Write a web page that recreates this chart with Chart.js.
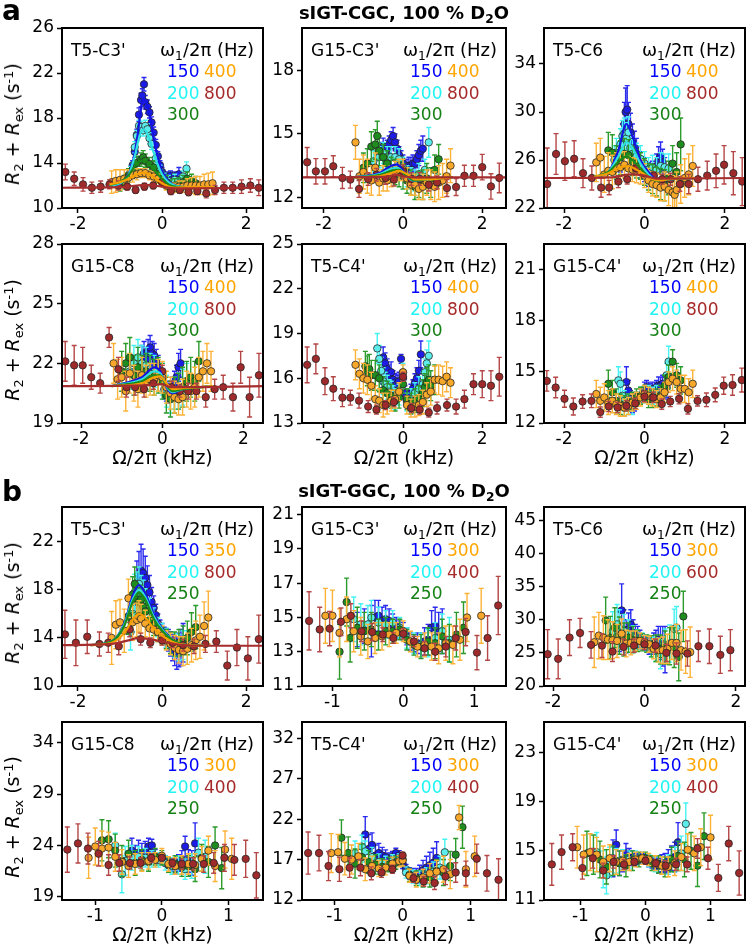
<!DOCTYPE html>
<html>
<head>
<meta charset="utf-8">
<script src="https://cdn.jsdelivr.net/npm/chart.js@4.4.1/dist/chart.umd.min.js"></script>
<style>
body { margin: 0; background: #fff; }
#fig { position: relative; width: 749px; height: 948px; overflow: hidden; font-family: 'DejaVu Sans', sans-serif; color: #000; }
#fig canvas { position: absolute; }
.t { position: absolute; white-space: nowrap; line-height: 20px; }
.t sub { font-size: 68%; vertical-align: -0.3em; line-height: 0; }
.t sup { font-size: 68%; vertical-align: 0.5em; line-height: 0; }
</style>
</head>
<body>
<div id="fig"></div>
<script>
// each point: [offset kHz, R2+Rex, error]
// ---- a: sIGT-CGC ----
const a1_150 = [[-0.75,13.0,0.4],[-0.7,13.8,0.4],[-0.65,15.0,0.5],[-0.6,16.5,0.5],[-0.55,18.3,0.6],[-0.5,19.6,0.6],[-0.47,20.0,0.6],[-0.43,21.0,0.6],[-0.4,19.4,0.6],[-0.35,19.0,0.6],[-0.3,18.5,0.5],[-0.25,17.6,0.5],[-0.2,16.7,0.5],[-0.15,15.6,0.5],[-0.1,14.6,0.4],[-0.05,13.8,0.4],[0,13.2,0.4],[0.1,12.8,0.4],[0.2,12.9,0.4],[0.3,12.8,0.4],[0.4,13.0,0.6],[0.45,12.6,0.4]];
const a1_200 = [[-0.85,12.5,0.5],[-0.75,13.2,0.5],[-0.65,15.4,0.5],[-0.6,16.4,0.5],[-0.55,17.3,0.5],[-0.5,17.2,0.5],[-0.45,16.9,0.5],[-0.4,17.3,0.5],[-0.35,17.0,0.5],[-0.3,16.2,0.5],[-0.25,15.7,0.5],[-0.15,14.4,0.5],[-0.05,13.3,0.5],[0.05,12.6,0.5],[0.15,12.4,0.5],[0.3,12.5,0.5],[0.45,12.4,0.5],[0.5,12.8,0.5],[0.58,13.5,0.6]];
const a1_300 = [[-1.0,12.1,0.6],[-0.9,12.3,0.6],[-0.8,12.9,0.6],[-0.7,13.4,0.6],[-0.6,14.0,0.6],[-0.5,14.3,0.6],[-0.45,14.5,0.6],[-0.4,14.2,0.6],[-0.3,13.9,0.6],[-0.2,13.6,0.6],[-0.1,13.0,0.6],[0,12.6,0.6],[0.1,12.3,0.6],[0.2,11.9,0.6],[0.3,12.0,0.6],[0.4,12.1,0.6],[0.5,12.3,0.6],[0.6,12.6,0.6],[0.7,12.4,0.6],[0.8,12.2,0.6]];
const a1_400 = [[-1.2,12.3,1.0],[-1.1,12.4,1.0],[-1.0,12.5,0.9],[-0.9,12.6,0.8],[-0.8,12.7,0.7],[-0.7,12.9,0.6],[-0.6,13.0,0.5],[-0.5,13.1,0.4],[-0.4,13.1,0.4],[-0.3,12.9,0.4],[-0.2,12.8,0.4],[-0.1,12.6,0.4],[0,12.3,0.4],[0.1,12.0,0.4],[0.2,11.8,0.4],[0.3,11.8,0.4],[0.4,11.9,0.5],[0.5,11.9,0.5],[0.6,12.0,0.6],[0.7,12.0,0.7],[0.8,12.0,0.8],[0.9,12.0,0.8],[1.0,12.1,0.9],[1.1,12.1,1.0],[1.2,12.2,1.0]];
const a1_800 = [[-2.3,13.2,0.7],[-2.09,12.6,0.6],[-1.88,12.1,0.6],[-1.67,11.8,0.5],[-1.46,11.9,0.5],[-1.25,12.1,0.4],[-1.04,12.0,0.4],[-0.83,11.9,0.3],[-0.63,11.6,0.3],[-0.42,11.9,0.3],[-0.21,12.0,0.3],[0,12.3,0.3],[0.21,11.5,0.3],[0.42,11.6,0.3],[0.63,11.4,0.3],[0.84,11.5,0.3],[1.05,11.3,0.4],[1.26,11.6,0.4],[1.47,11.8,0.5],[1.68,11.8,0.5],[1.89,11.9,0.6],[2.1,12.0,0.6],[2.3,11.8,0.7]];
const a1_fit150 = [[-1.25,12.0],[-1.0,12.2],[-0.8,13.0],[-0.7,14.0],[-0.6,16.0],[-0.5,18.8],[-0.45,19.7],[-0.4,19.6],[-0.3,18.3],[-0.2,16.2],[-0.1,14.5],[0,13.3],[0.15,12.4],[0.3,12.0],[0.6,11.85],[1.25,11.85]];
const a1_fit200 = [[-1.25,12.0],[-1.0,12.2],[-0.8,12.9],[-0.65,14.6],[-0.55,16.2],[-0.45,17.0],[-0.35,16.6],[-0.25,15.5],[-0.1,13.8],[0,13.0],[0.15,12.3],[0.3,12.0],[0.6,11.85],[1.25,11.85]];
const a1_fit300 = [[-1.25,12.05],[-1.0,12.3],[-0.8,12.9],[-0.65,13.7],[-0.5,14.2],[-0.4,14.2],[-0.3,13.9],[-0.15,13.2],[0,12.6],[0.15,12.1],[0.3,11.9],[0.6,11.85],[1.25,11.85]];
const a1_fit400 = [[-1.25,12.1],[-1.0,12.3],[-0.8,12.6],[-0.6,13.0],[-0.45,13.15],[-0.3,13.0],[-0.15,12.6],[0,12.2],[0.15,11.9],[0.3,11.8],[0.6,11.85],[1.25,11.85]];
const a1_fit800 = [[-2.38,11.8],[-1.0,11.85],[-0.6,12.0],[-0.4,12.05],[-0.2,12.0],[0,11.9],[0.3,11.75],[0.6,11.75],[2.4,11.8]];

const a2_150 = [[-0.55,14.2,0.4],[-0.5,14.4,0.4],[-0.45,14.1,0.4],[-0.4,14.3,0.4],[-0.35,14.5,0.4],[-0.3,14.7,0.4],[-0.25,14.9,0.4],[-0.2,14.6,0.4],[-0.15,14.3,0.4],[-0.1,14.0,0.4],[-0.05,13.8,0.4],[0,13.6,0.4],[0.05,13.4,0.4],[0.1,13.4,0.4],[0.15,13.5,0.4],[0.2,13.5,0.4],[0.25,13.6,0.4],[0.3,13.6,0.4],[0.35,13.8,0.4],[0.4,14.0,0.5],[0.45,14.2,0.5],[0.5,14.3,0.6]];
const a2_200 = [[-0.75,13.7,0.5],[-0.6,13.9,0.5],[-0.5,14.1,0.5],[-0.4,13.9,0.5],[-0.3,13.9,0.5],[-0.2,13.9,0.5],[-0.1,13.8,0.5],[0,13.4,0.5],[0.1,13.0,0.5],[0.2,12.9,0.5],[0.3,12.8,0.5],[0.4,13.1,0.5],[0.55,13.3,0.5],[0.65,14.6,0.7]];
const a2_300 = [[-1.0,13.4,0.7],[-0.9,13.6,0.7],[-0.8,14.4,0.7],[-0.7,14.5,0.7],[-0.65,14.9,0.7],[-0.6,14.2,0.7],[-0.5,13.9,0.6],[-0.4,13.6,0.6],[-0.3,13.3,0.6],[-0.2,13.2,0.6],[-0.1,13.1,0.6],[0,13.0,0.6],[0.1,12.8,0.6],[0.2,12.7,0.6],[0.3,12.5,0.6],[0.4,12.6,0.6],[0.5,12.6,0.7],[0.6,12.9,0.7],[0.7,12.7,0.7],[0.8,13.3,0.7],[0.9,13.8,0.7]];
const a2_400 = [[-1.2,14.6,0.8],[-1.1,13.0,0.8],[-1.0,13.2,0.8],[-0.9,13.0,0.8],[-0.8,12.8,0.7],[-0.7,13.4,0.7],[-0.6,12.7,0.6],[-0.5,12.9,0.6],[-0.4,12.8,0.5],[-0.3,13.0,0.5],[-0.2,13.2,0.5],[-0.1,13.3,0.5],[0,13.3,0.5],[0.1,12.9,0.5],[0.2,12.6,0.5],[0.3,12.6,0.5],[0.4,12.4,0.5],[0.5,12.5,0.6],[0.6,12.7,0.6],[0.7,12.6,0.7],[0.8,12.5,0.7],[0.9,12.7,0.8],[1.0,12.8,0.8],[1.1,13.0,0.8],[1.2,13.5,0.8]];
const a2_800 = [[-2.42,13.66,0.7],[-2.2,13.23,0.6],[-1.97,13.23,0.6],[-1.76,13.47,0.5],[-1.53,12.92,0.5],[-1.33,12.84,0.4],[-1.11,12.4,0.4],[-0.88,12.87,0.3],[-0.67,13.07,0.3],[-0.44,12.92,0.3],[-0.23,12.84,0.3],[0,13.23,0.3],[0.21,12.87,0.3],[0.42,12.87,0.3],[0.65,12.6,0.3],[0.86,12.71,0.3],[1.11,12.44,0.4],[1.34,12.49,0.4],[1.55,13.02,0.5],[1.78,13.02,0.5],[2.0,13.43,0.6],[2.22,12.52,0.6],[2.43,12.92,0.7]];
const a2_fit150 = [[-1.25,12.95],[-0.6,13.15],[-0.3,13.5],[-0.15,13.55],[0.05,13.15],[0.25,12.8],[0.6,12.85],[1.25,12.95]];
const a2_fit200 = [[-1.25,12.95],[-0.6,13.1],[-0.3,13.35],[-0.15,13.4],[0.05,13.1],[0.25,12.8],[0.6,12.85],[1.25,12.95]];
const a2_fit300 = [[-1.25,12.95],[-0.6,13.05],[-0.3,13.25],[-0.1,13.3],[0.1,13.0],[0.3,12.8],[0.6,12.85],[1.25,12.95]];
const a2_fit400 = [[-1.25,12.95],[-0.6,13.0],[-0.3,13.15],[-0.1,13.25],[0.1,13.1],[0.3,12.85],[0.6,12.85],[1.25,12.95]];
const a2_fit800 = [[-2.55,12.95],[-0.5,12.97],[-0.15,13.05],[0.2,12.95],[2.6,12.95]];

const a3_150 = [[-0.6,26.2,1.2],[-0.55,27.5,1.5],[-0.5,29.0,1.8],[-0.47,30.0,2.0],[-0.43,30.2,2.0],[-0.4,29.0,1.8],[-0.35,28.3,1.6],[-0.3,27.5,1.5],[-0.25,27.0,1.4],[-0.2,26.5,1.3],[-0.15,26.0,1.2],[-0.1,25.6,1.1],[0,25.2,1.0],[0.1,24.8,1.0],[0.2,24.9,1.0],[0.3,25.5,1.0],[0.35,26.0,1.1],[0.4,26.3,1.2],[0.45,25.8,1.1],[0.5,25.2,1.0]];
const a3_200 = [[-0.75,26.0,1.2],[-0.7,26.6,1.2],[-0.6,27.3,1.3],[-0.55,28.0,1.3],[-0.5,28.2,1.3],[-0.45,27.8,1.3],[-0.4,28.3,1.3],[-0.35,27.0,1.2],[-0.3,26.5,1.2],[-0.2,26.3,1.1],[-0.1,26.1,1.1],[0,25.7,1.0],[0.1,25.2,1.0],[0.2,25.4,1.0],[0.3,25.2,1.0],[0.4,25.5,1.1],[0.5,25.4,1.1],[0.6,25.3,1.2]];
const a3_300 = [[-0.9,26.8,1.5],[-0.8,26.6,1.5],[-0.7,25.8,1.4],[-0.6,26.2,1.4],[-0.5,26.5,1.3],[-0.4,26.4,1.3],[-0.3,25.9,1.2],[-0.2,25.7,1.2],[-0.1,25.5,1.1],[0,25.0,1.1],[0.1,24.6,1.1],[0.2,24.4,1.2],[0.3,24.2,1.2],[0.4,24.0,1.3],[0.5,23.9,1.3],[0.6,24.5,1.4],[0.7,25.7,1.5],[0.8,25.0,1.6],[0.9,27.3,2.2]];
const a3_400 = [[-1.2,25.8,1.6],[-1.1,26.2,1.6],[-1.0,24.8,1.5],[-0.9,25.1,1.5],[-0.8,25.0,1.4],[-0.7,25.3,1.3],[-0.6,25.4,1.2],[-0.5,25.6,1.1],[-0.4,25.3,1.0],[-0.3,25.2,1.0],[-0.2,25.1,1.0],[-0.1,25.0,1.0],[0,24.7,1.0],[0.1,24.3,1.0],[0.2,24.0,1.0],[0.3,23.9,1.0],[0.4,23.7,1.1],[0.5,23.8,1.2],[0.6,23.5,1.3],[0.7,23.3,1.4],[0.75,23.1,1.5],[0.8,23.5,1.5],[0.9,24.0,1.6],[1.0,24.5,1.6],[1.1,24.8,1.7],[1.2,25.5,1.7]];
const a3_800 = [[-2.42,24.0,3.0],[-2.2,26.5,1.7],[-1.98,25.9,1.6],[-1.75,26.1,1.5],[-1.53,24.9,1.2],[-1.31,24.5,1.0],[-1.08,23.7,0.8],[-0.88,23.7,0.6],[-0.65,24.2,0.5],[-0.43,24.4,0.4],[-0.21,25.3,0.3],[0,24.9,0.3],[0.23,24.7,0.3],[0.44,24.4,0.4],[0.65,24.4,0.5],[0.88,24.0,0.6],[1.1,24.0,0.8],[1.33,24.4,1.0],[1.56,24.7,1.2],[1.78,25.1,1.4],[1.98,25.6,1.6],[2.21,24.9,1.8],[2.43,24.2,2.0]];
const a3_fit150 = [[-1.25,24.6],[-0.9,25.0],[-0.65,26.8],[-0.45,29.0],[-0.3,28.0],[-0.1,26.0],[0.1,25.0],[0.3,24.4],[0.6,24.4],[1.25,24.5]];
const a3_fit200 = [[-1.25,24.6],[-0.9,25.0],[-0.65,26.3],[-0.45,27.5],[-0.3,27.0],[-0.1,25.7],[0.1,24.8],[0.3,24.3],[0.6,24.4],[1.25,24.5]];
const a3_fit300 = [[-1.25,24.6],[-0.9,25.0],[-0.6,26.0],[-0.45,26.3],[-0.3,26.0],[-0.1,25.3],[0.1,24.6],[0.3,24.3],[0.6,24.4],[1.25,24.5]];
const a3_fit400 = [[-1.25,24.6],[-0.9,24.9],[-0.6,25.4],[-0.4,25.5],[-0.2,25.2],[0,24.8],[0.2,24.4],[0.4,24.3],[0.7,24.45],[1.25,24.5]];
const a3_fit800 = [[-2.5,24.5],[-0.8,24.55],[-0.35,24.8],[0,24.7],[0.3,24.45],[2.5,24.5]];

const a4_150 = [[-0.5,22.3,0.6],[-0.45,22.5,0.6],[-0.4,22.2,0.6],[-0.35,22.6,0.6],[-0.3,22.8,0.6],[-0.25,22.5,0.6],[-0.2,22.4,0.6],[-0.15,22.1,0.6],[-0.1,21.8,0.6],[-0.05,21.5,0.5],[0,21.1,0.5],[0.05,20.7,0.5],[0.1,20.6,0.5],[0.15,20.5,0.5],[0.2,20.6,0.5],[0.25,20.8,0.5],[0.3,21.0,0.6],[0.35,21.3,0.6],[0.4,21.8,0.7],[0.45,22.0,0.7]];
const a4_200 = [[-0.8,21.6,0.9],[-0.7,22.0,0.9],[-0.6,22.3,0.9],[-0.5,22.0,0.9],[-0.4,21.9,0.9],[-0.3,21.7,0.8],[-0.2,21.6,0.8],[-0.1,21.4,0.8],[0,21.2,0.8],[0.1,20.6,0.8],[0.2,20.3,0.8],[0.3,20.5,0.8],[0.4,20.6,0.9],[0.5,20.8,0.9],[0.6,21.1,0.9]];
const a4_300 = [[-1.0,21.6,1.0],[-0.9,22.0,1.0],[-0.8,22.3,1.0],[-0.7,21.4,1.0],[-0.6,21.8,1.0],[-0.5,21.5,0.9],[-0.4,21.6,0.9],[-0.3,21.5,0.9],[-0.2,21.3,0.9],[-0.1,21.4,0.9],[0,21.1,0.9],[0.1,20.4,0.9],[0.2,20.2,0.9],[0.3,20.4,0.9],[0.4,20.6,0.9],[0.5,20.8,1.0],[0.6,21.1,1.0],[0.7,21.3,1.0],[0.8,21.1,1.0],[0.9,22.1,1.0]];
const a4_400 = [[-1.2,22.0,1.0],[-1.1,21.2,1.0],[-1.0,21.3,1.0],[-0.9,20.6,1.0],[-0.8,21.5,1.0],[-0.7,21.0,0.9],[-0.6,20.7,0.9],[-0.5,21.4,0.9],[-0.4,21.1,0.8],[-0.3,21.2,0.8],[-0.2,21.2,0.8],[-0.1,21.4,0.8],[0,21.3,0.8],[0.1,20.8,0.8],[0.2,20.5,0.8],[0.3,20.3,0.8],[0.4,20.2,0.8],[0.5,20.3,0.9],[0.6,20.7,0.9],[0.7,20.6,0.9],[0.8,20.8,1.0],[0.9,21.3,1.0],[1.0,21.6,1.0],[1.1,22.0,1.0],[1.2,21.6,1.0]];
const a4_800 = [[-2.39,22.1,1.0],[-2.17,21.9,1.0],[-1.96,21.9,0.9],[-1.75,21.3,0.6],[-1.53,21.0,0.5],[-1.31,23.3,0.5],[-1.08,21.7,0.6],[-0.88,20.8,0.5],[-0.67,20.8,0.4],[-0.45,20.7,0.4],[-0.22,21.0,0.3],[0,21.6,0.3],[0.23,20.8,0.3],[0.43,20.6,0.3],[0.64,20.6,0.4],[0.84,20.6,0.4],[1.07,20.3,0.5],[1.29,20.7,0.5],[1.5,20.8,0.6],[1.74,20.3,0.7],[1.93,21.8,0.8],[2.15,20.3,1.0],[2.38,21.4,1.1]];
const a4_fit150 = [[-1.25,20.85],[-0.5,21.3],[-0.2,21.8],[-0.05,21.6],[0.1,20.8],[0.25,20.5],[0.5,20.7],[1.25,20.85]];
const a4_fit200 = [[-1.25,20.85],[-0.5,21.2],[-0.2,21.6],[-0.05,21.5],[0.1,20.85],[0.25,20.55],[0.5,20.7],[1.25,20.85]];
const a4_fit300 = [[-1.25,20.85],[-0.5,21.1],[-0.2,21.4],[-0.05,21.4],[0.1,20.9],[0.25,20.6],[0.5,20.7],[1.25,20.85]];
const a4_fit400 = [[-1.25,20.85],[-0.5,21.0],[-0.2,21.3],[-0.05,21.35],[0.1,21.0],[0.25,20.7],[0.5,20.75],[1.25,20.85]];
const a4_fit800 = [[-2.47,20.85],[-0.3,20.9],[0,20.95],[0.2,20.8],[2.48,20.85]];

const a5_150 = [[-0.5,17.4,0.7],[-0.45,17.0,0.7],[-0.4,16.6,0.7],[-0.35,16.2,0.7],[-0.3,16.4,0.7],[-0.25,15.9,0.6],[-0.2,15.7,0.6],[-0.15,15.6,0.6],[-0.1,15.8,0.6],[-0.05,17.3,0.3],[0,16.0,0.5],[0.05,15.0,0.5],[0.1,14.6,0.5],[0.15,14.8,0.5],[0.2,15.0,0.6],[0.25,15.3,0.6],[0.3,15.7,0.6],[0.35,16.0,0.7],[0.4,16.5,0.7],[0.45,17.6,0.9]];
const a5_200 = [[-0.65,18.0,1.0],[-0.6,17.3,0.9],[-0.55,16.5,0.9],[-0.5,15.8,0.9],[-0.45,15.6,0.8],[-0.4,15.4,0.8],[-0.35,15.1,0.8],[-0.3,15.0,0.8],[-0.25,14.8,0.7],[-0.2,14.6,0.7],[-0.1,14.9,0.7],[0,16.4,0.6],[0.1,14.4,0.6],[0.2,14.6,0.7],[0.3,15.0,0.7],[0.4,15.3,0.8],[0.5,15.6,0.8],[0.55,16.4,0.9],[0.6,17.0,0.9],[0.65,17.5,1.0]];
const a5_300 = [[-0.95,16.8,1.0],[-0.9,16.5,1.0],[-0.85,16.6,1.0],[-0.8,16.2,1.0],[-0.7,16.2,1.0],[-0.6,16.0,0.9],[-0.5,15.2,0.9],[-0.4,15.0,0.8],[-0.3,14.8,0.8],[-0.2,14.5,0.7],[-0.1,14.7,0.7],[0,15.6,0.6],[0.1,14.6,0.7],[0.2,14.3,0.7],[0.3,14.5,0.8],[0.4,14.7,0.8],[0.5,15.0,0.9],[0.55,15.4,0.9],[0.6,15.7,1.0],[0.65,15.9,1.0],[0.7,15.5,1.0],[0.8,15.9,1.0]];
const a5_400 = [[-1.2,16.9,1.0],[-1.1,16.3,1.0],[-1.0,16.0,1.0],[-0.9,15.9,1.0],[-0.8,15.5,0.9],[-0.7,14.6,0.9],[-0.6,14.5,0.8],[-0.5,14.2,0.8],[-0.4,14.3,0.7],[-0.3,14.5,0.7],[-0.2,14.6,0.6],[-0.1,15.1,0.6],[0,16.4,0.5],[0.1,14.2,0.6],[0.2,14.0,0.6],[0.3,14.1,0.7],[0.4,14.2,0.7],[0.5,14.4,0.8],[0.6,14.9,0.8],[0.7,15.1,0.9],[0.8,15.9,0.9],[0.9,15.9,1.0],[1.0,15.8,1.0],[1.1,16.1,1.0],[1.2,15.7,1.0]];
const a5_800 = [[-2.42,16.9,1.2],[-2.2,17.3,1.0],[-1.97,15.8,0.9],[-1.76,15.3,0.8],[-1.53,14.7,0.6],[-1.33,14.7,0.5],[-1.11,14.5,0.5],[-0.88,14.1,0.4],[-0.67,13.9,0.3],[-0.44,14.2,0.3],[-0.23,14.4,0.3],[0,16.1,0.3],[0.21,14.0,0.3],[0.42,13.9,0.3],[0.65,13.7,0.3],[0.86,14.0,0.4],[1.11,14.2,0.4],[1.34,14.1,0.5],[1.55,14.6,0.6],[1.78,15.6,0.7],[2.0,15.6,0.9],[2.22,15.5,1.0],[2.43,16.1,1.3]];

const a6_150 = [[-0.45,14.4,0.9],[-0.4,13.9,0.6],[-0.35,13.4,0.5],[-0.3,13.1,0.5],[-0.25,13.2,0.5],[-0.2,13.4,0.4],[-0.1,13.6,0.4],[0,14.0,0.4],[0.05,14.1,0.4],[0.1,14.0,0.4],[0.15,13.9,0.4],[0.2,14.0,0.4],[0.25,14.0,0.4],[0.3,14.1,0.4],[0.35,14.2,0.5],[0.4,14.2,0.5],[0.45,14.3,0.5],[0.5,13.9,0.5],[0.55,14.1,0.6]];
const a6_200 = [[-0.65,14.5,0.8],[-0.6,14.3,0.7],[-0.55,13.6,0.7],[-0.5,13.3,0.6],[-0.4,13.1,0.6],[-0.3,13.0,0.5],[-0.2,13.3,0.5],[-0.1,13.6,0.5],[0,13.7,0.5],[0.1,13.7,0.5],[0.2,13.6,0.5],[0.3,13.7,0.5],[0.4,13.6,0.6],[0.5,14.2,0.6],[0.55,14.8,0.7],[0.6,15.6,0.9]];
const a6_300 = [[-0.9,14.3,0.8],[-0.8,13.8,0.7],[-0.7,13.3,0.7],[-0.6,13.1,0.6],[-0.5,13.0,0.6],[-0.4,13.2,0.5],[-0.3,13.3,0.5],[-0.2,13.5,0.5],[-0.1,13.6,0.5],[0,13.7,0.5],[0.1,13.4,0.5],[0.2,13.4,0.5],[0.3,13.5,0.5],[0.4,13.6,0.6],[0.5,14.2,0.6],[0.6,14.7,0.7],[0.7,15.6,0.7],[0.8,14.8,0.7],[0.9,14.5,0.8]];
const a6_400 = [[-1.2,13.7,0.8],[-1.1,13.3,0.8],[-1.0,13.5,0.8],[-0.9,13.2,0.7],[-0.8,13.3,0.7],[-0.7,13.1,0.6],[-0.6,13.0,0.6],[-0.5,12.9,0.5],[-0.4,13.0,0.5],[-0.3,13.2,0.5],[-0.2,13.3,0.5],[-0.1,13.5,0.5],[0,13.7,0.5],[0.1,13.6,0.5],[0.2,13.5,0.5],[0.3,13.4,0.5],[0.4,13.5,0.5],[0.5,13.8,0.6],[0.6,14.4,0.6],[0.7,14.6,0.7],[0.8,14.4,0.7],[0.9,14.0,0.8],[1.0,14.0,0.8],[1.1,13.8,0.8],[1.2,14.3,0.8]];
const a6_800 = [[-2.43,14.47,0.6],[-2.21,14.08,0.6],[-1.99,13.42,0.5],[-1.77,12.97,0.5],[-1.54,13.26,0.4],[-1.32,13.3,0.4],[-1.1,12.64,0.3],[-0.89,12.97,0.3],[-0.67,12.91,0.3],[-0.45,13.01,0.3],[-0.23,13.15,0.3],[0,13.55,0.3],[0.22,13.5,0.3],[0.43,13.11,0.3],[0.64,13.26,0.3],[0.86,13.42,0.3],[1.08,12.83,0.3],[1.32,13.3,0.3],[1.54,13.36,0.4],[1.76,13.65,0.4],[1.97,14.19,0.5],[2.19,14.23,0.6],[2.42,14.52,0.7]];

// ---- b: sIGT-GGC ----
const b1_150 = [[-0.65,17.0,1.5],[-0.6,18.6,1.8],[-0.55,19.2,2.0],[-0.5,19.6,2.2],[-0.45,19.4,2.0],[-0.4,19.0,1.8],[-0.35,18.4,1.6],[-0.3,17.8,1.4],[-0.25,17.0,1.2],[-0.2,16.5,1.0],[-0.15,15.9,0.9],[-0.1,15.2,0.8],[-0.05,14.8,0.7],[0,14.5,0.7],[0.05,14.2,0.7],[0.1,14.0,0.8],[0.15,13.8,0.9],[0.2,13.5,1.0],[0.25,13.2,1.1],[0.3,12.9,1.2],[0.35,12.7,1.3],[0.4,13.0,1.4],[0.45,13.2,1.5],[0.5,13.6,1.6]];
const b1_200 = [[-0.75,14.5,1.5],[-0.7,16.0,1.5],[-0.65,17.8,1.5],[-0.6,18.0,1.5],[-0.55,18.5,1.4],[-0.5,17.9,1.3],[-0.45,17.6,1.2],[-0.4,17.0,1.1],[-0.3,16.3,1.0],[-0.2,15.6,0.9],[-0.1,14.9,0.8],[0,14.5,0.7],[0.1,14.0,0.8],[0.2,13.5,0.9],[0.3,13.4,1.0],[0.4,13.2,1.1],[0.5,13.4,1.2],[0.6,13.2,1.4]];
const b1_250 = [[-0.8,15.8,1.5],[-0.7,17.6,1.5],[-0.65,18.5,1.4],[-0.6,17.2,1.3],[-0.55,17.0,1.2],[-0.5,17.2,1.2],[-0.45,16.6,1.1],[-0.4,16.2,1.0],[-0.3,15.5,0.9],[-0.2,15.0,0.8],[-0.1,14.5,0.8],[0,14.2,0.7],[0.1,13.9,0.8],[0.2,13.6,0.9],[0.3,13.5,1.0],[0.4,13.6,1.1],[0.5,13.8,1.2],[0.6,14.0,1.4],[0.7,14.5,1.6],[0.8,14.9,1.8]];
const b1_350 = [[-1.2,14.0,2.2],[-1.1,15.1,2.0],[-1.0,15.3,1.9],[-0.9,14.6,1.8],[-0.8,17.3,1.6],[-0.7,15.3,1.5],[-0.6,15.5,1.4],[-0.55,15.8,1.3],[-0.5,15.6,1.2],[-0.4,15.2,1.1],[-0.3,14.8,1.0],[-0.2,14.7,0.9],[-0.1,14.5,0.8],[0,14.2,0.8],[0.1,13.8,0.8],[0.2,13.5,0.9],[0.3,13.2,1.0],[0.4,13.0,1.1],[0.5,12.9,1.2],[0.6,13.1,1.3],[0.7,13.4,1.4],[0.8,13.8,1.6],[0.9,14.1,1.8],[1.0,15.0,2.0],[1.1,15.7,2.2]];
const b1_800 = [[-2.31,14.3,2.0],[-2.05,13.6,1.9],[-1.78,14.1,1.4],[-1.49,13.5,1.0],[-1.28,13.6,0.8],[-1.03,13.3,0.7],[-0.77,14.7,0.6],[-0.51,13.9,0.5],[-0.28,13.6,0.4],[0,13.8,0.4],[0.25,13.6,0.4],[0.5,13.4,0.5],[0.76,13.3,0.6],[1.03,13.5,0.7],[1.29,13.7,0.9],[1.55,11.7,1.2],[1.78,13.2,1.5],[2.04,12.3,1.8],[2.3,13.9,2.0]];
const b1_fit150 = [[-1.7,13.4],[-1.2,13.7],[-0.9,15.2],[-0.7,17.5],[-0.55,18.4],[-0.4,17.7],[-0.2,16.0],[0,14.8],[0.3,13.7],[0.6,13.4],[1.0,13.35]];
const b1_fit200 = [[-1.7,13.4],[-1.2,13.7],[-0.9,15.1],[-0.7,17.2],[-0.55,18.0],[-0.4,17.4],[-0.2,15.8],[0,14.7],[0.3,13.7],[0.6,13.4],[1.0,13.35]];
const b1_fit250 = [[-1.7,13.4],[-1.2,13.7],[-0.9,15.0],[-0.7,17.0],[-0.55,17.8],[-0.4,17.2],[-0.2,15.6],[0,14.6],[0.3,13.7],[0.6,13.4],[1.0,13.35]];
const b1_fit350 = [[-1.7,13.4],[-1.2,13.6],[-0.9,14.4],[-0.7,15.5],[-0.55,16.0],[-0.4,15.7],[-0.2,14.8],[0,14.2],[0.3,13.6],[0.6,13.4],[1.0,13.35]];
const b1_fit800 = [[-2.38,13.4],[-1.2,13.5],[-0.8,13.8],[-0.55,14.0],[-0.3,13.9],[0,13.7],[0.4,13.45],[1.0,13.35],[2.4,13.35]];

const b2_150 = [[-0.65,14.3,1.0],[-0.55,14.5,1.0],[-0.45,14.2,1.5],[-0.4,15.0,1.0],[-0.35,15.1,0.9],[-0.3,14.8,0.8],[-0.25,14.9,0.8],[-0.2,14.8,0.7],[-0.15,14.6,0.6],[-0.1,14.5,0.5],[-0.05,14.3,0.5],[0,14.2,0.5],[0.05,13.9,0.5],[0.1,13.6,0.5],[0.15,13.5,0.5],[0.2,13.5,0.6],[0.25,13.4,0.7],[0.3,13.6,0.8],[0.35,13.7,0.9],[0.4,14.4,1.0],[0.45,14.5,1.1],[0.5,14.1,1.2],[0.55,14.2,1.3]];
const b2_200 = [[-0.7,14.9,1.3],[-0.6,14.6,1.2],[-0.5,14.6,1.1],[-0.45,15.0,1.0],[-0.35,14.7,0.9],[-0.25,14.6,0.8],[-0.15,14.7,0.7],[-0.05,14.4,0.6],[0.05,13.8,0.6],[0.15,13.5,0.6],[0.25,13.4,0.7],[0.35,13.5,0.8],[0.45,13.8,0.9],[0.55,14.2,1.0],[0.65,13.7,1.3]];
const b2_250 = [[-0.9,13.0,1.6],[-0.8,15.9,1.4],[-0.75,13.8,1.4],[-0.65,14.4,1.2],[-0.55,14.2,1.1],[-0.45,14.3,1.0],[-0.35,14.0,0.9],[-0.25,14.2,0.8],[-0.15,14.2,0.7],[-0.05,14.3,0.6],[0.05,13.7,0.6],[0.15,13.4,0.6],[0.25,13.3,0.7],[0.35,13.6,0.8],[0.45,13.5,0.9],[0.55,13.9,1.0],[0.65,13.5,1.1],[0.75,14.0,1.3],[0.85,14.4,1.5]];
const b2_300 = [[-1.1,15.1,1.6],[-1.0,15.1,1.5],[-0.9,14.1,1.4],[-0.8,14.9,1.3],[-0.7,14.2,1.2],[-0.6,13.9,1.1],[-0.5,13.6,1.0],[-0.4,13.8,0.9],[-0.3,13.9,0.8],[-0.2,14.0,0.7],[-0.1,14.1,0.6],[0,14.2,0.6],[0.1,13.6,0.6],[0.2,13.3,0.6],[0.3,13.4,0.7],[0.4,13.3,0.8],[0.5,13.2,0.9],[0.6,13.5,1.0],[0.7,13.4,1.1],[0.8,13.7,1.2],[0.9,15.0,1.4],[1.1,15.1,1.6]];
const b2_400 = [[-1.33,14.8,1.7],[-1.18,14.3,1.3],[-1.04,14.35,1.0],[-0.88,14.75,0.8],[-0.74,15.1,0.7],[-0.59,14.2,0.6],[-0.44,14.15,0.5],[-0.29,14.0,0.4],[-0.14,13.8,0.3],[0,14.05,0.3],[0.15,13.6,0.3],[0.3,13.2,0.4],[0.45,13.0,0.5],[0.6,13.3,0.6],[0.74,13.8,0.7],[0.88,14.15,0.8],[1.04,12.95,1.0],[1.19,13.8,1.3],[1.34,15.7,1.7]];

const b3_150 = [[-0.55,28.2,3.0],[-0.5,31.4,4.0],[-0.45,28.5,3.0],[-0.4,27.5,2.5],[-0.35,28.5,2.5],[-0.3,29.3,2.2],[-0.25,28.0,2.0],[-0.2,27.5,1.8],[-0.15,27.4,1.6],[-0.1,27.0,1.4],[-0.05,26.7,1.2],[0,26.5,1.0],[0.05,26.3,1.0],[0.1,26.0,1.2],[0.15,26.2,1.4],[0.2,26.4,1.6],[0.25,26.6,1.8],[0.3,27.0,2.0],[0.35,26.5,2.5],[0.4,26.0,3.0],[0.45,25.5,3.5]];
const b3_200 = [[-0.7,28.2,3.0],[-0.6,29.3,3.0],[-0.55,28.7,2.8],[-0.45,28.3,2.5],[-0.35,27.8,2.2],[-0.25,27.3,1.8],[-0.15,27.0,1.5],[-0.05,26.8,1.2],[0.05,26.4,1.2],[0.15,25.9,1.5],[0.25,25.5,1.8],[0.35,24.8,2.2],[0.45,26.1,2.5],[0.55,26.4,2.8],[0.65,28.6,3.0],[0.7,28.8,3.2]];
const b3_250 = [[-0.85,29.9,3.5],[-0.75,27.3,3.2],[-0.65,28.8,3.0],[-0.55,27.6,2.8],[-0.45,27.0,2.5],[-0.35,27.3,2.2],[-0.25,27.0,2.0],[-0.15,26.8,1.6],[-0.05,26.6,1.3],[0.05,26.4,1.3],[0.15,26.0,1.6],[0.25,25.7,2.0],[0.35,25.5,2.2],[0.45,25.8,2.5],[0.55,26.0,2.8],[0.65,25.8,3.0],[0.75,24.4,3.6],[0.85,30.5,3.8]];
const b3_300 = [[-1.1,26.6,3.8],[-1.0,27.6,3.5],[-0.9,27.3,3.3],[-0.8,27.0,3.0],[-0.7,26.9,2.8],[-0.6,26.8,2.5],[-0.5,27.9,2.2],[-0.4,26.4,2.0],[-0.3,26.5,1.8],[-0.2,26.8,1.5],[-0.1,26.8,1.2],[0,26.6,1.0],[0.1,26.3,1.2],[0.2,25.6,1.5],[0.3,25.4,1.8],[0.4,25.4,2.0],[0.5,25.6,2.2],[0.6,26.5,2.5],[0.7,26.5,2.8],[0.8,25.4,3.0],[0.9,25.2,3.3],[1.0,25.1,3.8]];
const b3_600 = [[-2.12,24.8,3.7],[-1.89,24.1,3.0],[-1.64,27.3,2.7],[-1.41,28.0,2.2],[-1.17,26.2,2.0],[-0.93,26.1,1.8],[-0.7,25.2,1.5],[-0.46,25.9,1.2],[-0.23,26.1,1.0],[0,26.3,0.8],[0.24,26.1,1.0],[0.48,25.0,1.3],[0.7,24.9,1.6],[0.94,24.9,1.9],[1.18,26.0,2.3],[1.42,26.0,2.6],[1.66,24.7,2.8],[1.88,25.4,3.1]];

const b4_150 = [[-0.45,23.5,1.2],[-0.4,23.0,1.0],[-0.35,23.3,1.2],[-0.3,23.2,1.0],[-0.25,23.4,1.0],[-0.2,23.9,0.8],[-0.15,24.0,0.6],[-0.1,23.0,0.6],[-0.05,22.8,0.5],[0,22.7,0.5],[0.05,22.5,0.5],[0.1,22.3,0.5],[0.15,22.1,0.6],[0.2,22.0,0.7],[0.25,22.3,0.8],[0.3,22.6,0.9],[0.35,23.9,1.0],[0.4,22.5,1.1],[0.45,22.3,1.2],[0.5,24.2,2.0]];
const b4_200 = [[-0.7,24.0,1.2],[-0.6,21.2,1.8],[-0.55,22.5,1.4],[-0.45,22.8,1.2],[-0.35,22.9,1.0],[-0.25,22.8,0.9],[-0.15,22.7,0.8],[-0.05,22.6,0.7],[0.05,22.3,0.7],[0.15,22.0,0.8],[0.25,22.1,0.9],[0.35,21.7,1.0],[0.45,22.0,1.2],[0.55,23.3,1.4],[0.65,22.9,1.6]];
const b4_250 = [[-0.9,24.5,2.0],[-0.8,24.6,1.8],[-0.7,23.5,1.6],[-0.6,22.5,1.5],[-0.5,23.2,1.3],[-0.4,22.3,1.2],[-0.3,22.6,1.0],[-0.2,22.4,0.9],[-0.1,22.9,0.8],[0,22.8,0.7],[0.1,22.1,0.7],[0.2,22.2,0.8],[0.3,21.9,0.9],[0.4,22.0,1.0],[0.5,21.7,1.2],[0.6,22.8,1.3],[0.7,22.4,1.5],[0.8,24.0,1.8],[0.9,21.8,2.0]];
const b4_300 = [[-1.1,22.8,2.0],[-1.0,23.9,1.8],[-0.9,23.7,1.7],[-0.8,23.8,1.5],[-0.7,22.9,1.4],[-0.6,22.4,1.2],[-0.5,22.0,1.1],[-0.4,22.2,1.0],[-0.3,22.4,0.9],[-0.2,22.5,0.8],[-0.1,22.6,0.7],[0,23.0,0.7],[0.1,22.2,0.7],[0.2,22.0,0.8],[0.3,22.1,0.9],[0.4,22.2,1.0],[0.5,22.1,1.1],[0.6,22.7,1.2],[0.7,23.5,1.4],[0.8,22.0,1.5],[0.95,23.6,1.8],[1.05,22.7,2.0]];
const b4_400 = [[-1.42,23.6,2.2],[-1.26,24.2,1.9],[-1.11,23.7,1.5],[-0.95,23.2,1.2],[-0.8,22.1,1.0],[-0.64,22.3,0.8],[-0.48,22.3,0.6],[-0.32,22.3,0.5],[-0.16,22.8,0.4],[0,22.8,0.3],[0.16,22.3,0.4],[0.3,22.2,0.5],[0.47,22.2,0.6],[0.63,22.2,0.8],[0.78,22.3,1.0],[0.94,22.8,1.3],[1.09,22.6,1.5],[1.26,22.7,1.8],[1.42,21.1,2.2]];

const b5_150 = [[-0.55,20.1,2.2],[-0.5,18.3,1.8],[-0.45,18.8,1.5],[-0.4,17.5,1.3],[-0.35,17.8,1.2],[-0.3,17.5,1.0],[-0.25,17.3,0.9],[-0.2,17.0,0.8],[-0.15,17.3,0.7],[-0.1,17.8,0.6],[-0.05,17.5,0.6],[0,16.5,0.6],[0.05,15.8,0.6],[0.1,15.3,0.7],[0.15,15.1,0.8],[0.2,15.0,0.9],[0.25,15.3,1.0],[0.3,15.7,1.2],[0.35,16.0,1.4],[0.4,16.3,1.6],[0.45,16.6,1.8],[0.5,17.2,2.0]];
const b5_200 = [[-0.7,17.8,1.5],[-0.6,18.6,1.4],[-0.55,18.0,1.3],[-0.45,17.3,1.2],[-0.35,16.7,1.0],[-0.25,16.5,0.9],[-0.15,16.8,0.8],[-0.05,17.0,0.7],[0.05,15.4,0.7],[0.15,14.9,0.8],[0.25,14.7,0.9],[0.35,15.0,1.0],[0.45,15.5,1.2],[0.55,16.0,1.4],[0.62,17.9,1.6]];
const b5_250 = [[-0.9,19.7,2.2],[-0.8,17.8,2.0],[-0.7,16.5,1.8],[-0.6,17.3,1.6],[-0.5,16.7,1.4],[-0.4,16.4,1.2],[-0.3,16.1,1.0],[-0.2,16.4,0.9],[-0.1,16.6,0.8],[0,17.0,0.8],[0.1,15.1,0.8],[0.2,14.7,0.9],[0.3,14.6,1.0],[0.4,14.8,1.2],[0.5,15.6,1.4],[0.6,15.4,1.6],[0.7,16.2,1.8],[0.78,17.6,2.0],[0.88,21.0,2.6]];
const b5_300 = [[-1.05,17.8,2.4],[-0.95,17.9,2.2],[-0.85,17.1,2.0],[-0.75,17.0,1.8],[-0.65,17.4,1.6],[-0.55,15.8,1.4],[-0.45,16.2,1.2],[-0.35,15.9,1.0],[-0.25,16.0,0.9],[-0.15,16.5,0.8],[-0.05,16.8,0.7],[0,16.9,0.7],[0.1,15.0,0.8],[0.2,14.5,0.9],[0.3,14.8,1.0],[0.4,15.3,1.2],[0.5,15.5,1.4],[0.6,15.8,1.6],[0.7,15.2,1.8],[0.83,22.2,1.5],[0.93,15.8,2.2],[1.06,17.4,2.5]];
const b5_400 = [[-1.39,17.8,2.6],[-1.23,17.8,2.2],[-1.09,16.2,1.8],[-0.93,15.8,1.5],[-0.78,16.0,1.2],[-0.62,16.0,1.0],[-0.46,15.3,0.8],[-0.31,15.4,0.6],[-0.15,15.8,0.5],[0,17.5,0.4],[0.16,14.7,0.5],[0.31,14.3,0.6],[0.47,14.1,0.8],[0.63,14.9,1.0],[0.78,15.4,1.2],[0.93,15.3,1.5],[1.09,17.1,1.8],[1.24,15.3,2.2],[1.41,14.5,2.6]];

const b6_150 = [[-0.5,14.4,1.5],[-0.45,15.5,1.2],[-0.4,14.0,1.0],[-0.35,14.2,0.9],[-0.3,14.8,0.8],[-0.25,14.5,0.7],[-0.2,14.4,0.6],[-0.15,14.3,0.5],[-0.1,14.3,0.4],[-0.05,14.4,0.4],[0,14.3,0.4],[0.05,14.1,0.4],[0.1,14.0,0.4],[0.15,14.0,0.5],[0.2,13.8,0.6],[0.25,14.0,0.7],[0.3,14.0,0.8],[0.35,14.2,0.9],[0.4,14.4,1.0],[0.45,14.5,1.2],[0.5,15.7,1.6]];
const b6_200 = [[-0.75,14.9,1.6],[-0.65,13.5,1.5],[-0.6,13.0,1.5],[-0.55,14.1,1.2],[-0.45,14.2,1.0],[-0.35,14.3,0.8],[-0.25,14.3,0.7],[-0.15,14.4,0.6],[-0.05,14.4,0.5],[0.05,14.2,0.5],[0.15,13.9,0.6],[0.25,13.8,0.7],[0.35,13.9,0.8],[0.45,14.3,1.0],[0.55,14.8,1.4],[0.62,17.2,1.7]];
const b6_250 = [[-0.9,14.8,1.8],[-0.8,14.7,1.6],[-0.7,14.3,1.5],[-0.6,13.7,1.4],[-0.5,14.2,1.2],[-0.4,14.0,1.0],[-0.3,13.8,0.9],[-0.2,14.2,0.8],[-0.1,14.3,0.6],[0,14.4,0.5],[0.1,14.0,0.6],[0.2,13.9,0.7],[0.3,13.7,0.8],[0.4,14.3,1.0],[0.5,14.6,1.2],[0.6,14.3,1.4],[0.7,15.0,1.5],[0.8,13.8,1.7],[0.9,16.2,1.9]];
const b6_300 = [[-1.05,15.3,1.7],[-0.95,14.7,1.6],[-0.85,14.9,1.5],[-0.75,14.7,1.4],[-0.65,14.1,1.3],[-0.55,14.4,1.1],[-0.45,14.1,1.0],[-0.35,14.2,0.8],[-0.25,14.1,0.7],[-0.15,14.3,0.6],[-0.05,14.4,0.5],[0.05,14.3,0.5],[0.15,14.0,0.6],[0.25,13.8,0.7],[0.35,13.7,0.8],[0.45,14.0,1.0],[0.55,14.5,1.1],[0.65,15.1,1.3],[0.75,14.8,1.4],[0.85,15.3,1.5],[1.0,16.1,1.8]];
const b6_400 = [[-1.44,13.9,1.7],[-1.29,14.9,1.4],[-1.12,15.3,1.1],[-0.97,13.6,0.9],[-0.81,14.4,0.8],[-0.65,13.4,0.6],[-0.49,14.1,0.5],[-0.33,13.9,0.4],[-0.17,14.1,0.3],[0,14.2,0.3],[0.16,14.0,0.3],[0.31,13.8,0.4],[0.47,13.9,0.5],[0.64,13.9,0.6],[0.8,15.2,0.8],[0.96,14.4,0.9],[1.12,12.8,1.1],[1.28,15.6,1.4],[1.44,13.2,1.8]];

// tick labels
const xTicksWide = [-2, 0, 2];
const xTicksNarrow = [-1, 0, 1];
const a1_yt = [10, 14, 18, 22, 26];
const a2_yt = [12, 15, 18];
const a3_yt = [22, 26, 30, 34];
const a4_yt = [19, 22, 25, 28];
const a5_yt = [13, 16, 19, 22, 25];
const a6_yt = [12, 15, 18, 21];
const b1_yt = [10, 14, 18, 22];
const b2_yt = [11, 13, 15, 17, 19, 21];
const b3_yt = [20, 25, 30, 35, 40, 45];
const b4_yt = [19, 24, 29, 34];
const b5_yt = [12, 17, 22, 27, 32];
const b6_yt = [11, 15, 19, 23];

// legend fields: [col1 row1, col2 row1, col1 row2, col2 row2, col1 row3]
const legA = ['150', '400', '200', '800', '300'];
const legB1 = ['150', '350', '200', '800', '250'];
const legB = ['150', '300', '200', '400', '250'];
const legB3 = ['150', '300', '200', '600', '250'];

// series slot colours: blue, cyan, green, orange, dark red
const FILL = ['#1c1ce6', '#5cecec', '#1f8c1f', '#f7a82a', '#9e2a2b'];
const ERRC = ['#2b2bf0', '#45f2f2', '#2b9b2b', '#fdb238', '#b54646'];
const FITC = ['#1414e0', '#2ee0e0', '#1a8a1a', '#f5a000', '#a52d2d'];
const TXT = ['#0000ff', '#22f4f4', '#168216', '#ffa500', '#a52a2a'];
// order of legend fields -> colour slot
const LEG_SLOT = [0, 3, 1, 4, 2];

const COLS = [[62, 263], [302, 506], [544, 745]];
const ROWS = [[28, 208], [244, 423], [507, 686], [722, 900]];

const panels = [
  { c: 0, r: 0, x: [-2.38, 2.4], y: [10, 26], xt: xTicksWide, yt: a1_yt, label: "T5-C3'", leg: legA, s: [a1_150, a1_200, a1_300, a1_400, a1_800], f: [a1_fit150, a1_fit200, a1_fit300, a1_fit400, a1_fit800] },
  { c: 1, r: 0, x: [-2.55, 2.6], y: [11.5, 20], xt: xTicksWide, yt: a2_yt, label: "G15-C3'", leg: legA, s: [a2_150, a2_200, a2_300, a2_400, a2_800], f: [a2_fit150, a2_fit200, a2_fit300, a2_fit400, a2_fit800] },
  { c: 2, r: 0, x: [-2.5, 2.5], y: [22, 37], xt: xTicksWide, yt: a3_yt, label: "T5-C6", leg: legA, s: [a3_150, a3_200, a3_300, a3_400, a3_800], f: [a3_fit150, a3_fit200, a3_fit300, a3_fit400, a3_fit800] },
  { c: 0, r: 1, x: [-2.47, 2.48], y: [19, 28], xt: xTicksWide, yt: a4_yt, label: "G15-C8", leg: legA, s: [a4_150, a4_200, a4_300, a4_400, a4_800], f: [a4_fit150, a4_fit200, a4_fit300, a4_fit400, a4_fit800] },
  { c: 1, r: 1, x: [-2.55, 2.6], y: [13, 25], xt: xTicksWide, yt: a5_yt, label: "T5-C4'", leg: legA, s: [a5_150, a5_200, a5_300, a5_400, a5_800] },
  { c: 2, r: 1, x: [-2.5, 2.5], y: [12, 22.5], xt: xTicksWide, yt: a6_yt, label: "G15-C4'", leg: legA, s: [a6_150, a6_200, a6_300, a6_400, a6_800] },
  { c: 0, r: 2, x: [-2.38, 2.4], y: [10, 24.9], xt: xTicksWide, yt: b1_yt, label: "T5-C3'", leg: legB1, s: [b1_150, b1_200, b1_250, b1_350, b1_800], f: [b1_fit150, b1_fit200, b1_fit250, b1_fit350, b1_fit800] },
  { c: 1, r: 2, x: [-1.43, 1.45], y: [11, 21.45], xt: xTicksNarrow, yt: b2_yt, label: "G15-C3'", leg: legB, s: [b2_150, b2_200, b2_250, b2_300, b2_400] },
  { c: 2, r: 2, x: [-2.2, 2.2], y: [20, 47], xt: xTicksWide, yt: b3_yt, label: "T5-C6", leg: legB3, s: [b3_150, b3_200, b3_250, b3_300, b3_600] },
  { c: 0, r: 3, x: [-1.5, 1.52], y: [18.7, 36], xt: xTicksNarrow, yt: b4_yt, label: "G15-C8", leg: legB, s: [b4_150, b4_200, b4_250, b4_300, b4_400] },
  { c: 1, r: 3, x: [-1.48, 1.52], y: [12, 34], xt: xTicksNarrow, yt: b5_yt, label: "T5-C4'", leg: legB, s: [b5_150, b5_200, b5_250, b5_300, b5_400] },
  { c: 2, r: 3, x: [-1.56, 1.53], y: [11, 25.5], xt: xTicksNarrow, yt: b6_yt, label: "G15-C4'", leg: legB, s: [b6_150, b6_200, b6_250, b6_300, b6_400] }
];

const fig = document.getElementById('fig');

// vertical error bars with small caps, drawn just before each scatter set
const errorBars = {
  id: 'errorBars',
  beforeDatasetDraw(chart, args) {
    const ds = chart.data.datasets[args.index];
    if (!ds.errs) return;
    const { ctx, chartArea: a, scales: { x, y } } = chart;
    ctx.save();
    ctx.beginPath();
    ctx.rect(a.left, a.top, a.right - a.left, a.bottom - a.top);
    ctx.clip();
    ctx.strokeStyle = ds.errColor;
    ctx.lineWidth = 1.4;
    ctx.beginPath();
    ds.data.forEach((p, i) => {
      const px = x.getPixelForValue(p.x);
      const lo = y.getPixelForValue(p.y - ds.errs[i]);
      const hi = y.getPixelForValue(p.y + ds.errs[i]);
      ctx.moveTo(px, lo); ctx.lineTo(px, hi);
      ctx.moveTo(px - 2.5, lo); ctx.lineTo(px + 2.5, lo);
      ctx.moveTo(px - 2.5, hi); ctx.lineTo(px + 2.5, hi);
    });
    ctx.stroke();
    ctx.restore();
  }
};

// closed black box round the plot area
const frame = {
  id: 'frame',
  afterDatasetsDraw(chart) {
    const { ctx, chartArea: a } = chart;
    ctx.save();
    ctx.strokeStyle = '#000';
    ctx.lineWidth = 2;
    ctx.strokeRect(a.left, a.top, a.right - a.left, a.bottom - a.top);
    ctx.restore();
  }
};

function addText(html, css) {
  const d = document.createElement('div');
  d.className = 't';
  d.innerHTML = html;
  Object.assign(d.style, css);
  fig.appendChild(d);
  return d;
}

const PADL = 60, PADT = 14, PADR = 8, PADB = 30;

function axisOpts(range, ticks, isX) {
  return {
    type: 'linear',
    min: range[0],
    max: range[1],
    bounds: 'data',
    afterBuildTicks: s => { s.ticks = ticks.map(v => ({ value: v })); },
    afterFit: s => { if (isX) s.height = PADB; else s.width = PADL; },
    grid: { display: true, drawOnChartArea: false, drawTicks: true, tickLength: 5, tickWidth: 1.5, tickColor: '#000' },
    border: { display: true, color: '#000', width: 2 },
    ticks: {
      color: '#000',
      font: { family: "'DejaVu Sans'", size: 17 },
      padding: isX ? 1 : 3,
      maxRotation: 0,
      autoSkip: false
    }
  };
}

panels.forEach(p => {
  const [L, R] = COLS[p.c];
  const [T, B] = ROWS[p.r];
  const w = R - L + PADL + PADR, h = B - T + PADT + PADB;
  const cv = document.createElement('canvas');
  cv.width = w; cv.height = h;
  cv.style.left = (L - PADL) + 'px';
  cv.style.top = (T - PADT) + 'px';
  cv.style.width = w + 'px';
  cv.style.height = h + 'px';
  fig.appendChild(cv);

  const datasets = [];
  p.s.forEach((ser, k) => {
    datasets.push({
      data: ser.map(q => ({ x: q[0], y: q[1] })),
      errs: ser.map(q => q[2]),
      errColor: ERRC[k],
      backgroundColor: FILL[k],
      borderColor: '#262626',
      borderWidth: 0.8,
      pointRadius: 3.7,
      order: 5 - k
    });
  });
  if (p.f) {
    p.f.forEach((fit, k) => {
      datasets.push({
        data: fit.map(q => ({ x: q[0], y: q[1] })),
        showLine: true,
        borderColor: FITC[k],
        borderWidth: 2.2,
        pointRadius: 0,
        cubicInterpolationMode: 'monotone',
        fill: false,
        order: -1 - k
      });
    });
  }

  new Chart(cv.getContext('2d'), {
    type: 'scatter',
    data: { datasets },
    options: {
      responsive: false,
      devicePixelRatio: 1,
      animation: false,
      events: [],
      layout: { padding: { left: 0, top: PADT, right: PADR, bottom: 0 } },
      plugins: { legend: { display: false }, tooltip: { enabled: false } },
      scales: { x: axisOpts(p.x, p.xt, true), y: axisOpts(p.y, p.yt, false) }
    },
    plugins: [errorBars, frame]
  });

  // panel label and legend
  addText(p.label, { left: (L + 9) + 'px', top: (T + 11) + 'px', fontSize: '17px', lineHeight: '22px' });
  addText('ω<sub>1</sub>/2π (Hz)', { right: (749 - (R - 9)) + 'px', top: (T + 11) + 'px', fontSize: '18px', lineHeight: '22px' });
  p.leg.forEach((txt, i) => {
    const col = i === 4 ? 0 : i % 2;
    const row = i === 4 ? 2 : Math.floor(i / 2);
    addText(txt, {
      left: (R - 96 + col * 37) + 'px',
      top: (T + 32 + row * 21.5) + 'px',
      fontSize: '17px',
      lineHeight: '22px',
      color: TXT[LEG_SLOT[i]]
    });
  });

  if (p.c === 0) {
    addText('<i>R</i><sub>2</sub> + <i>R</i><sub>ex</sub> (s<sup>-1</sup>)', {
      left: '12px', top: ((T + B) / 2 + 6) + 'px', fontSize: '19px', lineHeight: '22px',
      transform: 'translate(-50%,-50%) rotate(-90deg)'
    });
  }
  if (p.r === 1 || p.r === 3) {
    addText('Ω/2π (kHz)', {
      left: ((L + R) / 2) + 'px', top: (B + 34) + 'px', fontSize: '19px', lineHeight: '22px',
      transform: 'translate(-50%,-50%)'
    });
  }
});

// section letters and titles
addText('a', { left: '2px', top: '-5px', fontSize: '28px', fontWeight: 'bold', lineHeight: '32px' });
addText('b', { left: '2px', top: '476px', fontSize: '28px', fontWeight: 'bold', lineHeight: '32px' });
addText('sIGT-CGC, 100 % D<sub>2</sub>O', { left: '404px', top: '2px', fontSize: '18px', fontWeight: 'bold', lineHeight: '22px', transform: 'translateX(-50%)' });
addText('sIGT-GGC, 100 % D<sub>2</sub>O', { left: '404px', top: '480px', fontSize: '18px', fontWeight: 'bold', lineHeight: '22px', transform: 'translateX(-50%)' });
</script>
</body>
</html>
